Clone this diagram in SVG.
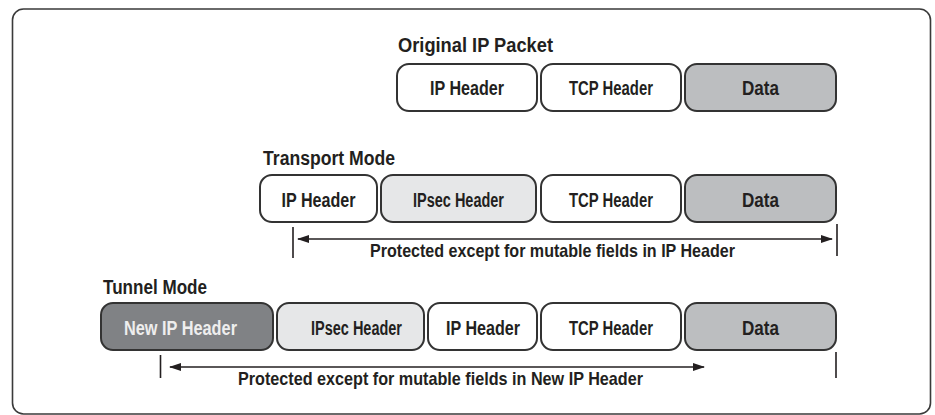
<svg xmlns="http://www.w3.org/2000/svg" width="935" height="415" viewBox="0 0 935 415">
<style>
  text { font-family: "Liberation Sans", "DejaVu Sans Condensed", Arial, sans-serif; font-weight: bold; fill: #231f20; }
  .title { font-size: 20px; }
  .lbl { font-size: 19.5px; text-anchor: middle; }
  .note { font-size: 18.5px; text-anchor: middle; }
  .box { stroke: #333333; stroke-width: 2; }
  .white { fill: #ffffff; }
  .light { fill: #e6e7e8; }
  .mid { fill: #bcbec0; }
  .dark { fill: #808285; }
  .inv { fill: #eeeeee; }
  .conn line { stroke: #231f20; stroke-width: 1.6; }
</style>
<defs>
  <marker id="ah" markerWidth="12" markerHeight="8" refX="11" refY="4" orient="auto-start-reverse" markerUnits="userSpaceOnUse">
    <path d="M0,0 L12,4 L0,8 Z" fill="#231f20"/>
  </marker>
</defs>
<rect x="12.5" y="9" width="918" height="405" rx="11" fill="#ffffff" stroke="#3a3a3a" stroke-width="1.6"/>

<g id="original">
  <text class="title" x="398" y="52" textLength="155" lengthAdjust="spacingAndGlyphs">Original IP Packet</text>
  <g id="o-ip"><rect class="box white" x="397" y="64" width="140" height="47" rx="12"/><text class="lbl" x="467" y="94.5" textLength="74" lengthAdjust="spacingAndGlyphs">IP Header</text></g>
  <g id="o-tcp"><rect class="box white" x="541" y="64" width="140" height="47" rx="12"/><text class="lbl" x="611" y="94.5" textLength="84" lengthAdjust="spacingAndGlyphs">TCP Header</text></g>
  <g id="o-data"><rect class="box mid" x="685" y="64" width="151" height="47" rx="12"/><text class="lbl" x="760.5" y="94.5" textLength="37" lengthAdjust="spacingAndGlyphs">Data</text></g>
</g>

<g id="transport">
  <text class="title" x="263" y="165" textLength="132" lengthAdjust="spacingAndGlyphs">Transport Mode</text>
  <g id="t-ip"><rect class="box white" x="260" y="175" width="117" height="47" rx="12"/><text class="lbl" x="318.5" y="206.5" textLength="74" lengthAdjust="spacingAndGlyphs">IP Header</text></g>
  <g id="t-ipsec"><rect class="box light" x="381" y="175" width="155" height="47" rx="12"/><text class="lbl" x="458.5" y="206.5" textLength="91" lengthAdjust="spacingAndGlyphs">IPsec Header</text></g>
  <g id="t-tcp"><rect class="box white" x="541" y="175" width="140" height="47" rx="12"/><text class="lbl" x="611" y="206.5" textLength="84" lengthAdjust="spacingAndGlyphs">TCP Header</text></g>
  <g id="t-data"><rect class="box mid" x="685" y="175" width="151" height="47" rx="12"/><text class="lbl" x="760.5" y="206.5" textLength="37" lengthAdjust="spacingAndGlyphs">Data</text></g>
  <text class="note" x="552.5" y="257" textLength="365" lengthAdjust="spacingAndGlyphs">Protected except for mutable fields in IP Header</text>
</g>

<g id="tunnel">
  <text class="title" x="103" y="294" textLength="104" lengthAdjust="spacingAndGlyphs">Tunnel Mode</text>
  <g id="u-newip"><rect class="box dark" x="101" y="303" width="172" height="47" rx="12"/><text class="lbl inv" x="180.5" y="334.5" textLength="113" lengthAdjust="spacingAndGlyphs">New IP Header</text></g>
  <g id="u-ipsec"><rect class="box light" x="277" y="303" width="147" height="47" rx="12"/><text class="lbl" x="356.5" y="334.5" textLength="91" lengthAdjust="spacingAndGlyphs">IPsec Header</text></g>
  <g id="u-ip"><rect class="box white" x="428" y="303" width="109" height="47" rx="12"/><text class="lbl" x="483" y="334.5" textLength="74" lengthAdjust="spacingAndGlyphs">IP Header</text></g>
  <g id="u-tcp"><rect class="box white" x="541" y="303" width="140" height="47" rx="12"/><text class="lbl" x="611" y="334.5" textLength="84" lengthAdjust="spacingAndGlyphs">TCP Header</text></g>
  <g id="u-data"><rect class="box mid" x="685" y="303" width="151" height="47" rx="12"/><text class="lbl" x="760.5" y="334.5" textLength="37" lengthAdjust="spacingAndGlyphs">Data</text></g>
  <text class="note" x="440.5" y="385" textLength="405" lengthAdjust="spacingAndGlyphs">Protected except for mutable fields in New IP Header</text>
</g>

<g id="connectors" class="conn">
  <line x1="293" y1="227" x2="293" y2="258"/>
  <line x1="837" y1="224" x2="837" y2="256"/>
  <line x1="298" y1="239" x2="832" y2="239" marker-start="url(#ah)" marker-end="url(#ah)"/>
  <line x1="160.5" y1="355" x2="160.5" y2="378"/>
  <line x1="836" y1="352" x2="836" y2="378"/>
  <line x1="170" y1="367" x2="704" y2="367" marker-start="url(#ah)" marker-end="url(#ah)"/>
</g>
</svg>
